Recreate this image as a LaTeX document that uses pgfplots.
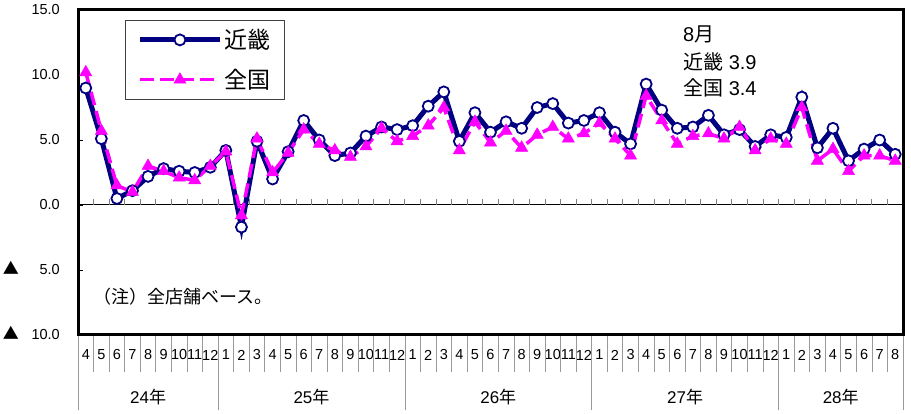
\documentclass[border=0pt]{standalone}
\usepackage{fontspec}
\setmainfont{Liberation Sans}
\newfontfamily\jp{Noto Sans CJK JP}
\usepackage{pgfplots}
\usepackage{pgfplotstable}
\pgfplotsset{compat=1.18}

\definecolor{kinki}{RGB}{0,0,128}
\definecolor{zenkoku}{RGB}{255,0,255}

% Monthly year-on-year change (%), April H24 to August H28
\pgfplotstableread{
x  kinki zenkoku
0   9.0  10.2
1   5.1   5.7
2   0.5   1.5
3   1.1   1.0
4   2.2   3.0
5   2.8   2.6
6   2.6   2.1
7   2.5   1.9
8   2.9   3.0
9   4.2   4.1
10 -1.7  -0.8
11  4.9   5.1
12  2.0   2.5
13  4.1   4.0
14  6.5   5.8
15  5.0   4.7
16  3.8   4.2
17  4.0   3.7
18  5.3   4.5
19  6.0   5.9
20  5.8   4.9
21  6.1   5.3
22  7.6   6.1
23  8.7   7.5
24  4.9   4.2
25  7.1   6.4
26  5.6   4.8
27  6.4   5.7
28  5.9   4.4
29  7.5   5.4
30  7.8   6.0
31  6.3   5.1
32  6.5   5.5
33  7.1   6.3
34  5.6   5.1
35  4.7   3.8
36  9.3   8.4
37  7.3   6.5
38  5.9   4.7
39  6.0   5.3
40  6.9   5.5
41  5.4   5.1
42  5.8   6.0
43  4.5   4.2
44  5.4   5.1
45  5.2   4.7
46  8.3   7.5
47  4.4   3.4
48  5.9   4.3
49  3.4   2.6
50  4.3   3.8
51  5.0   3.8
52  3.9   3.4
}\datatable

% negative sign mark used in the tick labels
\newcommand{\tri}{\raisebox{0pt}[0pt][0pt]{\jp\fontsize{16}{16}\selectfont ▲}}

\begin{document}
\begin{tikzpicture}[x=1pt,y=1pt]
\begin{axis}[
  at={(78pt,79pt)}, anchor=south west,
  scale only axis, width=825pt, height=325pt,
  xmin=-0.5, xmax=52.5, ymin=-10, ymax=15,
  clip=false,
  axis line style={draw=none},
  xtick={0,...,52},
  xticklabels={4,5,6,7,8,9,10,11,12,1,2,3,4,5,6,7,8,9,10,11,12,1,2,3,4,5,6,7,8,9,10,11,12,1,2,3,4,5,6,7,8,9,10,11,12,1,2,3,4,5,6,7,8},
  xtick style={draw=none},
  xticklabel style={font=\fontsize{14.5}{14.5}\selectfont, anchor=center, inner sep=0pt, yshift=-20pt},
  ytick={-10,-5,0,5,10,15},
  yticklabels={
    \makebox[57pt]{\tri\hfill 10.0},
    \makebox[57pt]{\tri\hfill 5.0},
    \makebox[57pt][r]{0.0},
    \makebox[57pt][r]{5.0},
    \makebox[57pt][r]{10.0},
    \makebox[57pt][r]{15.0}},
  ytick pos=left,
  ytick style={black, line width=0.8pt},
  major tick length=5pt,
  tick align=inside,
  yticklabel style={font=\fontsize{14.5}{14.5}\selectfont, anchor=east, inner sep=0pt, xshift=-18pt},
  legend style={at={(0.057,0.969)}, anchor=north west,
    draw=black!75, line width=0.8pt,
    font=\jp\fontsize{23}{23}\selectfont,
    inner xsep=12pt, inner ysep=7pt, row sep=15pt},
  legend cell align=left,
  legend image code/.code={
    \draw[mark repeat=2, mark phase=2, #1]
      plot coordinates {(0pt,0pt) (40pt,0pt) (80pt,0pt)};},
]
  % zero line with small category ticks
  \draw[black, line width=1pt] (axis cs:-0.5,0) -- (axis cs:52.5,0);
  \pgfplotsinvokeforeach{0.5,1.5,...,51.5}{
    \draw[gray, line width=0.8pt] (axis cs:#1,0) -- ([yshift=6pt]axis cs:#1,0);
  }

  \addplot[kinki, line width=5pt, mark=*, mark size=5.5pt,
    mark options={fill=white, draw=kinki, line width=1.8pt, solid}]
    table[x=x, y=kinki] {\datatable};
  \addlegendentry{近畿}

  \addplot[zenkoku, line width=3.5pt, dash pattern=on 14pt off 6pt,
    mark=triangle*, mark size=7pt,
    mark options={fill=zenkoku, draw=zenkoku, line width=0.5pt, solid}]
    table[x=x, y=zenkoku] {\datatable};
  \addlegendentry{全国}

  % month and year grid below the plot
  \pgfplotsinvokeforeach{-0.5,0.5,...,52.5}{
    \draw[gray!80, line width=0.7pt] (axis cs:#1,-10) -- ([yshift=-37pt]axis cs:#1,-10);
  }
  \pgfplotsinvokeforeach{-0.5,8.5,20.5,32.5,44.5,52.5}{
    \draw[gray!80, line width=0.7pt] (axis cs:#1,-10) -- ([yshift=-75pt]axis cs:#1,-10);
  }
  \node[font=\fontsize{17}{17}\selectfont] at ([yshift=-62pt]axis cs:4,-10) {24{\jp 年}};
  \node[font=\fontsize{17}{17}\selectfont] at ([yshift=-62pt]axis cs:14.5,-10) {25{\jp 年}};
  \node[font=\fontsize{17}{17}\selectfont] at ([yshift=-62pt]axis cs:26.5,-10) {26{\jp 年}};
  \node[font=\fontsize{17}{17}\selectfont] at ([yshift=-62pt]axis cs:38.5,-10) {27{\jp 年}};
  \node[font=\fontsize{17}{17}\selectfont] at ([yshift=-62pt]axis cs:48.5,-10) {28{\jp 年}};

  % plot frame
  \draw[black, line width=3pt] (rel axis cs:0,0) rectangle (rel axis cs:1,1);
\end{axis}

% latest-month note
\node[anchor=west, inner sep=0pt, font=\fontsize{20}{20}\selectfont] at (683,379.5) {8{\jp 月}};
\node[anchor=west, inner sep=0pt, font=\fontsize{20}{20}\selectfont] at (683,352) {{\jp 近畿} 3.9};
\node[anchor=west, inner sep=0pt, font=\fontsize{20}{20}\selectfont] at (683,326) {{\jp 全国} 3.4};

% footnote
\node[anchor=west, inner sep=0pt, font=\jp\fontsize{18}{18}\selectfont] at (93,117) {（注）全店舗ベース。};

\pgfresetboundingbox
\path (0,0) rectangle (911,414);
\end{tikzpicture}
\end{document}
